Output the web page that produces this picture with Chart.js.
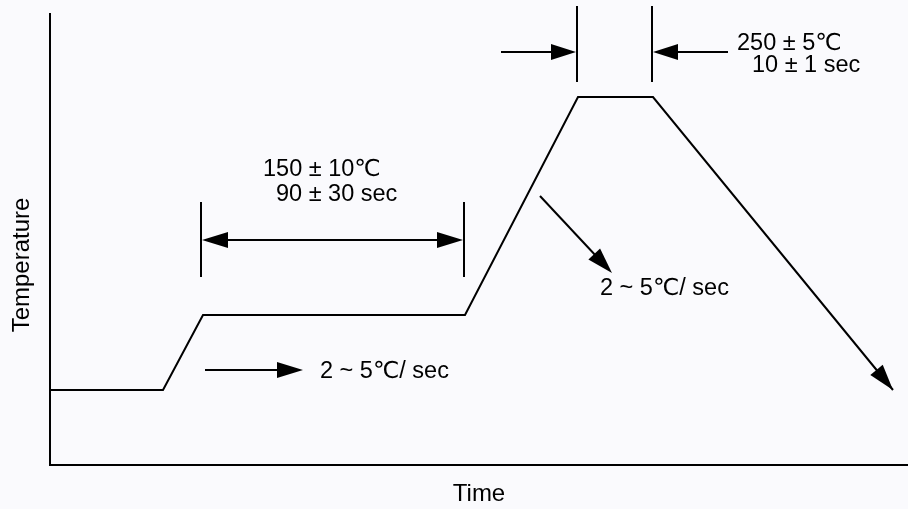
<!DOCTYPE html>
<html>
<head>
<meta charset="utf-8">
<script src="https://cdn.jsdelivr.net/npm/chart.js@4.4.0/dist/chart.umd.min.js"></script>
<style>
  html, body { margin: 0; padding: 0; background: #fafafd; }
  #wrap { width: 908px; height: 509px; position: relative; }
</style>
</head>
<body>
<div id="wrap"><canvas id="reflow"></canvas></div>
<script>
// reflow profile (time units / temperature units)
const profileTime = [0, 113, 153, 415, 528, 603, 843];
const profileTemp = [75, 75, 150, 150, 368, 368, 75];

// soak window bracket
const soakStart = 151, soakEnd = 414;
const soakBracketTemp = [188, 263];
const soakArrowTemp = 225;

// peak window bracket
const peakStart = 527, peakEnd = 602;
const peakBracketTemp = [383, 459];
const peakArrowTemp = 413;
const peakArrowTails = [451, 678];

// ramp arrows: [time, temp] start -> end
const riseArrow = [[155, 95], [253, 95]];
const coolArrow = [[490, 269], [562, 192]];

// labels: text, time, temp
const labelText = ["150 ± 10℃", "90 ± 30 sec", "250 ± 5℃", "10 ± 1 sec", "2 ~ 5℃/ sec", "2 ~ 5℃/ sec"];
const labelTime = [213, 226, 687, 702, 270, 550];
const labelTemp = [295, 270, 421, 399, 93, 176];

const FONT = "23.5px 'Liberation Sans', Arial, 'DejaVu Sans', sans-serif";

function arrowHead(ctx, x1, y1, x2, y2, len, half) {
  const a = Math.atan2(y2 - y1, x2 - x1);
  ctx.beginPath();
  ctx.moveTo(x2, y2);
  ctx.lineTo(x2 - len * Math.cos(a) + half * Math.sin(a), y2 - len * Math.sin(a) - half * Math.cos(a));
  ctx.lineTo(x2 - len * Math.cos(a) - half * Math.sin(a), y2 - len * Math.sin(a) + half * Math.cos(a));
  ctx.closePath();
  ctx.fill();
}

function line(ctx, x1, y1, x2, y2) {
  ctx.beginPath();
  ctx.moveTo(x1, y1);
  ctx.lineTo(x2, y2);
  ctx.stroke();
}

const annotations = {
  id: "annotations",
  afterDatasetsDraw(chart) {
    const ctx = chart.ctx;
    const x = chart.scales.x, y = chart.scales.y;
    const px = (v) => x.getPixelForValue(v);
    const py = (v) => y.getPixelForValue(v);
    ctx.save();
    ctx.strokeStyle = "#000";
    ctx.fillStyle = "#000";
    ctx.lineWidth = 2;

    // soak bracket
    line(ctx, px(soakStart), py(soakBracketTemp[0]), px(soakStart), py(soakBracketTemp[1]));
    line(ctx, px(soakEnd), py(soakBracketTemp[0]), px(soakEnd), py(soakBracketTemp[1]));
    line(ctx, px(soakStart) + 10, py(soakArrowTemp), px(soakEnd) - 10, py(soakArrowTemp));
    arrowHead(ctx, px(soakEnd), py(soakArrowTemp), px(soakStart) + 1, py(soakArrowTemp), 26, 8);
    arrowHead(ctx, px(soakStart), py(soakArrowTemp), px(soakEnd) - 1, py(soakArrowTemp), 26, 8);

    // peak bracket
    line(ctx, px(peakStart), py(peakBracketTemp[0]), px(peakStart), py(peakBracketTemp[1]));
    line(ctx, px(peakEnd), py(peakBracketTemp[0]), px(peakEnd), py(peakBracketTemp[1]));
    line(ctx, px(peakArrowTails[0]), py(peakArrowTemp), px(peakStart) - 10, py(peakArrowTemp));
    arrowHead(ctx, px(peakArrowTails[0]), py(peakArrowTemp), px(peakStart) - 1, py(peakArrowTemp), 25, 8);
    line(ctx, px(peakArrowTails[1]), py(peakArrowTemp), px(peakEnd) + 10, py(peakArrowTemp));
    arrowHead(ctx, px(peakArrowTails[1]), py(peakArrowTemp), px(peakEnd) + 1, py(peakArrowTemp), 25, 8);

    // ramp arrows
    [riseArrow, coolArrow].forEach((a) => {
      const x1 = px(a[0][0]), y1 = py(a[0][1]), x2 = px(a[1][0]), y2 = py(a[1][1]);
      const ang = Math.atan2(y2 - y1, x2 - x1);
      line(ctx, x1, y1, x2 - 12 * Math.cos(ang), y2 - 12 * Math.sin(ang));
      arrowHead(ctx, x1, y1, x2, y2, 26, 8);
    });

    // arrow at the end of the cooling line
    const n = profileTime.length - 1;
    arrowHead(ctx, px(profileTime[n - 1]), py(profileTemp[n - 1]), px(profileTime[n]), py(profileTemp[n]), 26, 8);

    // labels
    ctx.font = FONT;
    ctx.textBaseline = "middle";
    ctx.textAlign = "left";
    labelText.forEach((t, i) => ctx.fillText(t, px(labelTime[i]), py(labelTemp[i])));

    // axis titles
    ctx.font = "24px 'Liberation Sans', Arial, sans-serif";
    ctx.textAlign = "center";
    ctx.fillText("Time", (x.left + x.right) / 2, 494);
    ctx.translate(22, 265);
    ctx.rotate(-Math.PI / 2);
    ctx.fillText("Temperature", 0, 0);
    ctx.restore();
  }
};

new Chart(document.getElementById("reflow"), {
  type: "line",
  data: {
    datasets: [{
      data: profileTime.map((t, i) => ({ x: t, y: profileTemp[i] })),
      borderColor: "#000",
      borderWidth: 2,
      pointRadius: 0,
      tension: 0,
      fill: false
    }]
  },
  options: {
    responsive: true,
    maintainAspectRatio: false,
    animation: false,
    events: [],
    layout: { padding: { left: 50, top: 14, right: 0, bottom: 44 } },
    plugins: { legend: { display: false }, tooltip: { enabled: false } },
    scales: {
      x: {
        type: "linear", min: 0, max: 858,
        ticks: { display: false },
        grid: { display: false, drawTicks: false },
        border: { display: true, color: "#000", width: 2 }
      },
      y: {
        type: "linear", min: 0, max: 451,
        ticks: { display: false },
        grid: { display: false, drawTicks: false },
        border: { display: true, color: "#000", width: 2 }
      }
    }
  },
  plugins: [annotations]
});
</script>
</body>
</html>
